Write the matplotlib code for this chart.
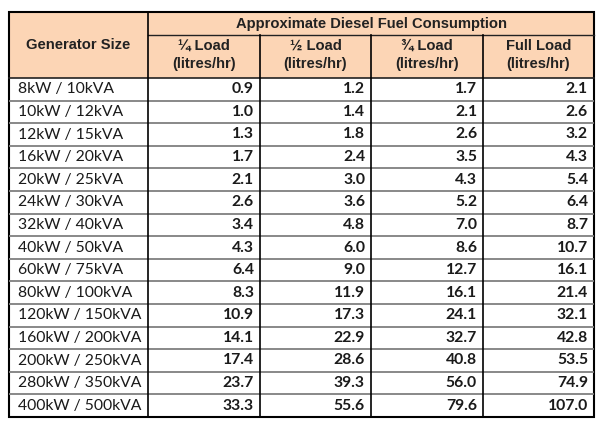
import matplotlib
matplotlib.use('Agg')
import matplotlib.pyplot as plt
from matplotlib.patches import Rectangle

# данные таблицы
sizes = ['8kW / 10kVA', '10kW / 12kVA', '12kW / 15kVA', '16kW / 20kVA',
         '20kW / 25kVA', '24kW / 30kVA', '32kW / 40kVA', '40kW / 50kVA',
         '60kW / 75kVA', '80kW / 100kVA', '120kW / 150kVA', '160kW / 200kVA',
         '200kW / 250kVA', '280kW / 350kVA', '400kW / 500kVA']
quarter = [0.9, 1.0, 1.3, 1.7, 2.1, 2.6, 3.4, 4.3, 6.4, 8.3, 10.9, 14.1, 17.4, 23.7, 33.3]
half = [1.2, 1.4, 1.8, 2.4, 3.0, 3.6, 4.8, 6.0, 9.0, 11.9, 17.3, 22.9, 28.6, 39.3, 55.6]
three_q = [1.7, 2.1, 2.6, 3.5, 4.3, 5.2, 7.0, 8.6, 12.7, 16.1, 24.1, 32.7, 40.8, 56.0, 79.6]
full = [2.1, 2.6, 3.2, 4.3, 5.4, 6.4, 8.7, 10.7, 16.1, 21.4, 32.1, 42.8, 53.5, 74.9, 107.0]
load_names = ['\u00bc Load', '\u00bd Load', '\u00be Load', 'Full Load']
title = 'Approximate Diesel Fuel Consumption'
first_col = 'Generator Size'
unit = '(litres/hr)'

# геометрия в пикселях
W, H = 602, 428
col_x = [9, 148, 260, 371, 483, 594]
top, mid, hdr_bot, bottom = 12, 35, 78, 417
row_h = (bottom - hdr_bot) / len(sizes)
head_color = '#fcd5b5'

fig = plt.figure(figsize=(W / 100, H / 100), dpi=100, facecolor='w')
ax = fig.add_axes([0, 0, 1, 1])
ax.set_xlim(0, W)
ax.set_ylim(H, 0)
ax.axis('off')

ax.add_patch(Rectangle((col_x[0], top), col_x[-1] - col_x[0], hdr_bot - top,
                       facecolor=head_color, edgecolor='none'))

hfont = dict(family='Liberation Sans', weight='bold', color='#222222', fontsize=10.6)
ax.text((col_x[0] + col_x[1]) / 2, (top + hdr_bot) / 2, first_col,
        ha='center', va='center', **hfont)
ax.text((col_x[1] + col_x[-1]) / 2, (top + mid) / 2 + 0.5, title,
        ha='center', va='center', **hfont)
for j, name in enumerate(load_names):
    cx = (col_x[j + 1] + col_x[j + 2]) / 2
    ax.text(cx, 45.5, name, ha='center', va='center', **hfont)
    ax.text(cx, 64, unit, ha='center', va='center', **hfont)

# строки данных
dfont = dict(family='Lato', color='#1a1a1a', fontsize=11.3)
columns = [quarter, half, three_q, full]
for i, name in enumerate(sizes):
    cy = hdr_bot + (i + 0.5) * row_h
    ax.text(col_x[0] + 9, cy, name, ha='left', va='center', **dfont)
    for j, vals in enumerate(columns):
        ax.text(col_x[j + 2] - 6, cy, '%.1f' % vals[i], ha='right', va='center',
                weight='bold', **dfont)
    if i > 0:
        y = hdr_bot + i * row_h
        ax.plot([col_x[0], col_x[-1]], [y, y], color='#7f7f7f', lw=1.3,
                solid_capstyle='butt')

# линии сетки
ax.plot([col_x[1], col_x[-1]], [mid, mid], color='#222222', lw=1.0)
ax.plot([col_x[0], col_x[-1]], [hdr_bot, hdr_bot], color='#222222', lw=1.2)
ax.plot([col_x[1], col_x[1]], [top, bottom], color='k', lw=1.2)
for x in col_x[2:-1]:
    ax.plot([x, x], [mid, bottom], color='k', lw=1.2)
ax.add_patch(Rectangle((col_x[0], top), col_x[-1] - col_x[0], bottom - top,
                       facecolor='none', edgecolor='k', lw=1.5))

fig.savefig('out.png', dpi=100, facecolor='w')
